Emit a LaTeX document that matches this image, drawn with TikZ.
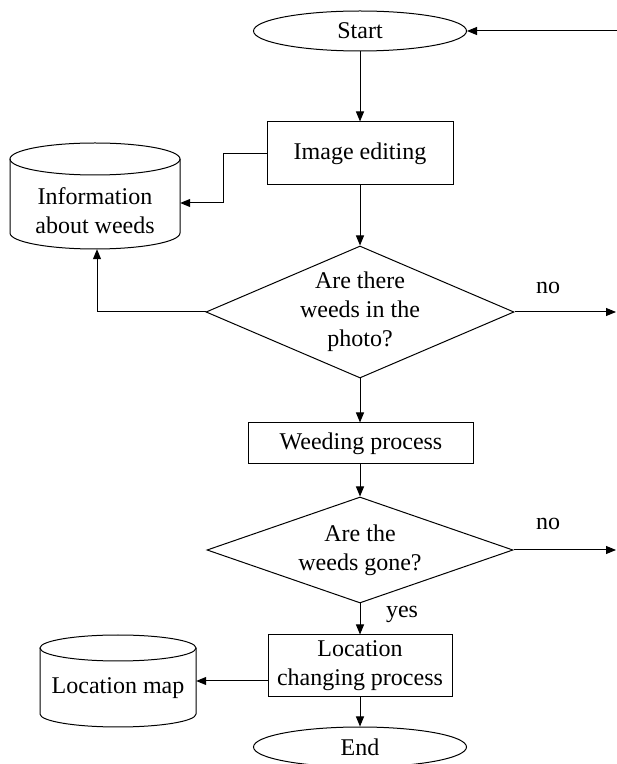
\documentclass[tikz,border=0pt]{standalone}
\usepackage{fontspec}
\setmainfont{Liberation Serif}
\usetikzlibrary{shapes.geometric,arrows.meta}
\begin{document}
\begin{tikzpicture}[x=1pt,y=1pt,
  every node/.style={font=\fontsize{24}{29}\selectfont, inner sep=0pt},
  lw/.style={line width=1pt},
  term/.style={draw, lw, ellipse, minimum width=213pt, minimum height=40pt},
  procbox/.style={draw, lw, rectangle, align=center},
  decision/.style={draw, lw, diamond, align=center},
  anchorbox/.style={draw=none, rectangle},
  arr/.style={lw, -{Triangle[length=10pt,width=8pt]}}]
\useasboundingbox (0,0) rectangle (617,764);

% nodes
\node[term] (start) at (360,733) {Start};
\node[procbox, minimum width=186pt, minimum height=63pt] (edit) at (360,610.5) {Image editing};
\node[anchorbox, minimum width=170pt, minimum height=106pt] (info) at (95,568) {};
\node[align=center] (infotext) at (95,553) {Information\\about weeds};
\node[decision, aspect=2.33, minimum width=308pt, minimum height=132pt] (q1) at (360,452) {Are there\\weeds in the\\photo?};
\node[procbox, minimum width=225pt, minimum height=41pt] (weed) at (361,320.5) {Weeding process};
\node[decision, aspect=2.89, minimum width=306pt, minimum height=106pt] (q2) at (360,214) {Are the\\weeds gone?};
\node[procbox, minimum width=184pt, minimum height=62pt] (loc) at (360,98) {Location\\changing process};
\node[anchorbox, minimum width=156pt, minimum height=92pt] (map) at (118,83) {};
\node (maptext) at (118,76) {Location map};
\node[term] (end) at (360,17) {End};

% data stores (cylinders)
\draw[lw] (10,605) -- (10,531) arc[start angle=180,end angle=360,x radius=85,y radius=16] -- (180,605);
\draw[lw] (95,605) ellipse[x radius=85,y radius=16];
\draw[lw] (40,116) -- (40,50) arc[start angle=180,end angle=360,x radius=78,y radius=13] -- (196,116);
\draw[lw] (118,116) ellipse[x radius=78,y radius=13];

% labels
\node (no1) at (548,476) {no};
\node (no2) at (548,240) {no};
\node (yes) at (402,150) {yes};

% connectors
\coordinate (in1) at (617,733);
\coordinate (out1) at (616,452);
\coordinate (out2) at (616,214);
\draw[arr] (in1) -- (start.east);
\draw[arr] (start.south) -- (edit.north);
\draw[arr] (edit.west) -- ++(-43,0) |- ([yshift=-7pt]info.east);
\draw[arr] (edit.south) -- (q1.north);
\draw[arr] (q1.west) -| ([xshift=2pt]info.south);
\draw[arr] (q1.east) -- (out1);
\draw[arr] (q1.south) -- (q1.south |- weed.north);
\draw[arr] (weed.south -| q2.north) -- (q2.north);
\draw[arr] (q2.east) -- (out2);
\draw[arr] (q2.south) -- (loc.north);
\draw[arr] (loc.west |- map.east) -- (map.east);
\draw[arr] (loc.south) -- (end.north);
\end{tikzpicture}
\end{document}
